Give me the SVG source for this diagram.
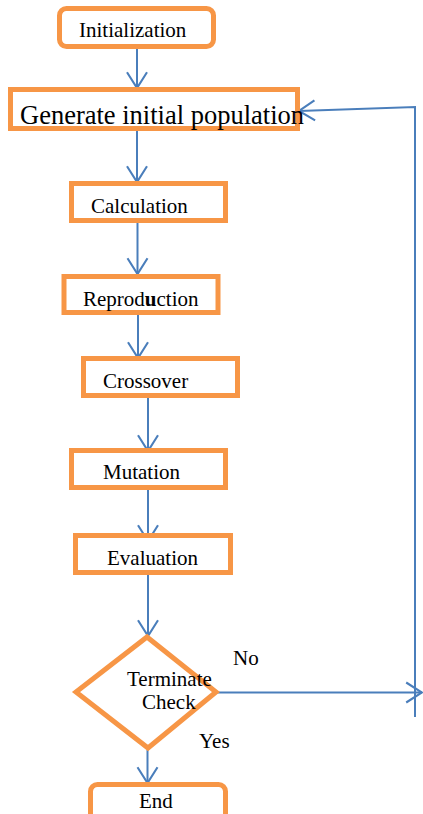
<svg xmlns="http://www.w3.org/2000/svg" width="423" height="814" viewBox="0 0 423 814">
<style>
.box{fill:#ffffff;stroke:#F79646;stroke-width:5}
.lbl{font-family:"Liberation Serif","Times New Roman",serif;font-size:21px;fill:#000000}
.con{fill:none;stroke:#4A7EBB;stroke-width:2}
</style>
<defs>
<marker id="arr" markerUnits="userSpaceOnUse" markerWidth="20" markerHeight="24" viewBox="-17 -11 19 22" refX="0" refY="0" orient="auto">
<path d="M -15 -9.5 L 0 0 L -15 9.5" fill="none" stroke="#4A7EBB" stroke-width="2"/>
</marker>
</defs>
<rect width="423" height="814" fill="#ffffff"/>
<g id="connectors">
<line class="con" x1="137" y1="48" x2="137" y2="88" marker-end="url(#arr)"/>
<line class="con" x1="137" y1="131" x2="137" y2="182" marker-end="url(#arr)"/>
<line class="con" x1="137.5" y1="223" x2="137.5" y2="274" marker-end="url(#arr)"/>
<line class="con" x1="138" y1="315" x2="138" y2="358" marker-end="url(#arr)"/>
<line class="con" x1="148" y1="398" x2="148" y2="451" marker-end="url(#arr)"/>
<line class="con" x1="148" y1="490" x2="148" y2="541" marker-end="url(#arr)"/>
<line class="con" x1="148" y1="575" x2="148" y2="636" marker-end="url(#arr)"/>
<line class="con" x1="147.5" y1="750" x2="147.5" y2="783" marker-end="url(#arr)"/>
<line class="con" x1="217" y1="692.5" x2="422" y2="692.5" marker-end="url(#arr)"/>
<polyline class="con" points="415,717 415,107 299,111" marker-end="url(#arr)"/>
</g>
<g id="initialization">
<rect class="box" x="59.5" y="8.5" width="154" height="38" rx="7"/>
<text class="lbl" x="79" y="37">Initialization</text>
</g>
<g id="generate">
<rect class="box" x="10.5" y="89.5" width="287" height="39"/>
<text class="lbl" x="20" y="124" style="font-size:26.5px">Generate initial population</text>
</g>
<g id="calculation">
<rect class="box" x="71.5" y="183.5" width="154" height="37"/>
<text class="lbl" x="91" y="213">Calculation</text>
</g>
<g id="reproduction">
<rect class="box" x="64" y="276.5" width="154" height="36"/>
<text class="lbl" x="83" y="306">Reprod<tspan font-weight="bold">u</tspan>ction</text>
</g>
<g id="crossover">
<rect class="box" x="83.5" y="358.5" width="154" height="37"/>
<text class="lbl" x="103" y="388">Crossover</text>
</g>
<g id="mutation">
<rect class="box" x="71.5" y="450.5" width="154" height="37"/>
<text class="lbl" x="103" y="479">Mutation</text>
</g>
<g id="evaluation">
<rect class="box" x="75.5" y="535.5" width="155" height="37"/>
<text class="lbl" x="107" y="565">Evaluation</text>
</g>
<g id="terminate-check">
<polygon class="box" points="147,637 216,692 148,748 76,692"/>
<text class="lbl" x="127" y="686">Terminate</text>
<text class="lbl" x="142" y="709">Check</text>
</g>
<g id="end">
<rect class="box" x="90.5" y="784.5" width="135" height="36" rx="7"/>
<text class="lbl" x="139" y="808">End</text>
</g>
<g id="edge-labels">
<text class="lbl" x="233" y="665">No</text>
<text class="lbl" x="199" y="748">Yes</text>
</g>
</svg>
